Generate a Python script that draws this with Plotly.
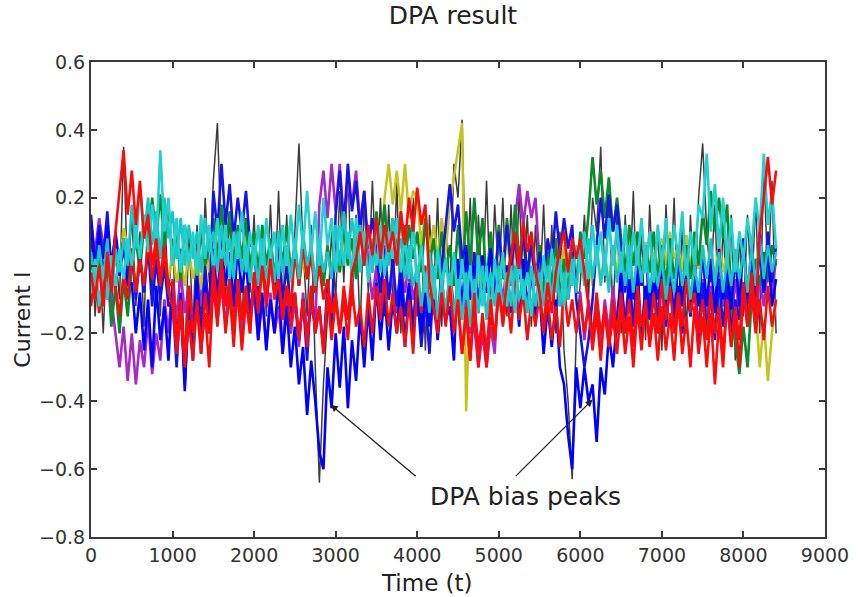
import plotly.graph_objects as go

# Sample instants of the averaged traces (one value every 50 samples, 0..8400)
time = list(range(0, 8401, 50))

# Differential traces, one list per key-guess group (10 values per row = 500 samples)
gray_trace = [
    0.1, -0.15, 0.06, -0.2, 0.08, -0.12, 0.04, -0.1, 0.35, -0.05,
    0.15, -0.12, 0.1, -0.18, 0.2, -0.08, 0.12, -0.15, 0.18, -0.1,
    0.08, -0.22, 0.05, -0.3, 0.1, -0.18, 0.12, -0.15, 0.2, -0.05,
    0.25, 0.42, 0.05, -0.1, 0.15, -0.12, 0.1, -0.18, 0.12, -0.08,
    0.15, -0.2, 0.1, -0.15, 0.18, -0.1, 0.22, -0.12, 0.15, -0.2,
    0.1, 0.36, 0.05, -0.15, 0.12, -0.3, -0.64, -0.35, -0.15, 0.1,
    -0.1, 0.22, -0.05, 0.3, -0.12, 0.15, -0.2, 0.2, -0.08, 0.25,
    -0.05, 0.2, -0.15, 0.18, -0.1, 0.25, -0.2, 0.12, -0.05, 0.2,
    -0.15, 0.1, -0.25, 0.15, -0.1, 0.2, -0.18, 0.12, -0.08, 0.3,
    0.2, 0.43, -0.1, 0.2, -0.2, 0.15, -0.1, 0.25, -0.12, 0.18,
    -0.05, 0.2, -0.15, 0.18, -0.1, 0.22, -0.08, 0.15, -0.18, 0.12,
    -0.1, 0.18, -0.15, 0.12, -0.2, 0.1, -0.25, -0.4, -0.63, -0.2,
    -0.05, 0.15, -0.1, 0.2, 0.1, 0.35, -0.05, 0.2, -0.15, 0.15,
    -0.2, 0.15, -0.1, 0.22, -0.15, 0.1, -0.22, 0.18, -0.1, 0.12,
    -0.25, 0.18, -0.1, 0.2, -0.15, 0.12, -0.2, 0.15, -0.1, 0.2,
    0.36, 0.1, -0.05, 0.18, -0.2, 0.12, -0.1, 0.15, -0.28, 0.1,
    -0.15, 0.15, -0.1, 0.2, -0.2, 0.3, -0.05, 0.25, -0.2,
]
yellow_trace = [
    0.02, -0.05, 0.04, -0.02, 0.05, -0.04, 0.02, 0.0, 0.11, 0.06,
    0.02, -0.05, 0.04, -0.06, 0.03, -0.04, 0.05, -0.06, 0.02, -0.04,
    0.04, -0.05, 0.02, -0.06, 0.05, -0.04, 0.03, -0.07, 0.06, -0.02,
    0.08, 0.0, 0.1, 0.02, 0.08, -0.02, 0.06, 0.0, 0.09, 0.02,
    0.04, -0.04, 0.06, -0.06, 0.02, -0.04, 0.05, -0.08, 0.02, -0.05,
    0.04, -0.06, 0.02, -0.04, 0.06, -0.04, 0.03, -0.06, 0.05, -0.02,
    0.08, -0.02, 0.1, 0.0, 0.08, 0.02, 0.12, 0.0, 0.1, 0.04,
    0.12, 0.04, 0.2, 0.3, 0.18, 0.28, 0.16, 0.3, 0.14, 0.22,
    0.2, 0.06, 0.16, 0.04, 0.12, 0.02, 0.14, 0.04, 0.18, 0.26,
    0.35, 0.42, -0.43, -0.05, 0.04, -0.06, 0.02, -0.04, 0.05, -0.02,
    0.06, -0.04, 0.08, -0.02, 0.05, -0.05, 0.06, -0.03, 0.04, -0.06,
    0.03, -0.05, 0.05, -0.06, 0.02, -0.04, 0.06, -0.05, 0.03, -0.06,
    0.04, -0.05, 0.02, -0.06, 0.05, -0.04, 0.03, -0.05, 0.06, -0.02,
    0.06, -0.02, 0.08, 0.0, 0.05, -0.04, 0.07, -0.02, 0.04, -0.03,
    0.08, 0.0, 0.1, 0.02, 0.06, -0.02, 0.09, 0.0, 0.07, -0.01,
    0.06, -0.03, 0.05, -0.04, 0.07, -0.02, 0.04, -0.05, 0.03, -0.06,
    0.02, -0.05, -0.02, -0.12, -0.3, -0.16, -0.34, -0.2, -0.1,
]
magenta_trace = [
    0.12, 0.04, 0.14, 0.06, 0.1, -0.1, -0.2, -0.3, -0.18, -0.34,
    -0.2, -0.35, -0.22, -0.3, -0.16, -0.32, -0.2, -0.28, -0.1, -0.2,
    -0.04, -0.16, -0.02, -0.14, -0.06, -0.18, -0.04, -0.12, -0.02, -0.16,
    -0.04, -0.16, -0.06, -0.18, -0.04, -0.14, -0.08, -0.2, -0.06, -0.16,
    -0.08, -0.22, -0.1, -0.24, -0.08, -0.2, -0.12, -0.26, -0.08, -0.2,
    -0.1, -0.24, -0.08, -0.2, -0.12, -0.18, 0.18, 0.28, 0.14, 0.3,
    0.16, 0.3, 0.12, 0.24, 0.18, 0.28, 0.12, 0.22, 0.0, -0.1,
    0.0, -0.12, 0.02, -0.1, -0.02, -0.14, 0.0, -0.08, 0.02, -0.1,
    -0.04, -0.16, -0.02, -0.14, -0.06, -0.18, -0.04, -0.14, -0.08, -0.16,
    -0.06, -0.14, -0.1, -0.2, -0.18, -0.3, -0.2, -0.3, -0.18, -0.26,
    -0.02, -0.1, 0.0, -0.06, 0.14, 0.24, 0.12, 0.22, 0.14, 0.2,
    0.0, -0.1, 0.02, -0.08, 0.0, -0.12, -0.02, -0.1, 0.0, -0.08,
    -0.08, -0.22, -0.1, -0.2, -0.12, -0.24, -0.1, -0.2, -0.06, -0.18,
    -0.06, -0.16, -0.04, -0.18, -0.08, -0.2, -0.06, -0.16, -0.04, -0.14,
    -0.06, -0.18, -0.05, -0.16, -0.08, -0.2, -0.04, -0.14, -0.06, -0.18,
    -0.04, -0.16, -0.06, -0.14, -0.02, -0.12, -0.06, -0.18, -0.04, -0.14,
    -0.06, -0.18, -0.1, -0.16, -0.04, -0.12, 0.0, -0.08, 0.02,
]
green_trace = [
    0.02, -0.06, 0.04, -0.08, 0.0, -0.18, -0.06, -0.2, -0.04, -0.15,
    0.0, 0.08, -0.02, 0.12, 0.06, 0.2, 0.08, 0.21, 0.06, 0.18,
    0.0, 0.1, -0.04, 0.12, 0.02, 0.08, -0.02, 0.1, 0.0, 0.06,
    0.14, 0.02, 0.18, 0.04, 0.16, 0.0, 0.12, 0.02, 0.14, -0.02,
    0.1, -0.02, 0.12, 0.0, 0.08, -0.04, 0.1, 0.0, 0.12, -0.02,
    0.06, -0.06, 0.08, -0.04, 0.05, -0.08, 0.04, -0.06, 0.06, -0.04,
    0.1, -0.02, 0.12, 0.0, 0.08, -0.04, 0.1, 0.02, 0.12, -0.02,
    0.16, 0.04, 0.18, 0.02, 0.14, 0.04, 0.16, 0.0, 0.12, 0.02,
    0.1, -0.02, 0.14, 0.0, 0.08, -0.04, 0.1, -0.02, 0.06, -0.06,
    0.12, -0.04, 0.16, 0.0, 0.2, 0.02, 0.14, -0.06, 0.1, -0.08,
    0.12, -0.04, 0.14, 0.0, 0.18, 0.02, 0.1, -0.05, 0.08, -0.06,
    0.06, -0.08, 0.04, -0.06, 0.08, -0.1, 0.02, -0.08, 0.04, -0.06,
    0.1, 0.02, 0.15, 0.32, 0.18, 0.28, 0.14, 0.26, 0.1, 0.2,
    0.08, -0.02, 0.12, 0.0, 0.1, -0.04, 0.06, -0.02, 0.1, -0.04,
    0.06, -0.06, 0.08, -0.04, 0.04, -0.08, 0.06, -0.04, 0.1, 0.0,
    0.16, 0.06, 0.22, 0.1, 0.2, 0.08, 0.18, -0.1, -0.22, -0.32,
    -0.18, -0.3, -0.1, 0.02, -0.06, 0.04, -0.04, 0.06, 0.0,
]
blue_trace_b = [
    0.15, 0.0, 0.12, 0.02, 0.16, -0.02, 0.1, 0.0, 0.08, -0.05,
    0.05, -0.1, 0.03, -0.08, 0.06, -0.12, 0.02, -0.1, 0.0, -0.12,
    -0.1, -0.3, -0.08, -0.35, -0.12, -0.28, -0.05, -0.22, 0.0, -0.15,
    0.22, 0.1, 0.3, 0.12, 0.24, 0.08, 0.2, 0.1, 0.22, 0.06,
    0.05, -0.1, 0.04, -0.12, 0.02, -0.08, 0.06, -0.1, 0.0, -0.14,
    -0.08, -0.22, -0.1, -0.28, -0.06, -0.2, -0.12, -0.25, -0.05, -0.18,
    0.15, 0.28, 0.12, 0.3, 0.16, 0.25, 0.1, 0.22, 0.05, 0.14,
    0.04, -0.08, 0.06, -0.1, 0.02, -0.12, 0.0, -0.15, -0.05, -0.2,
    -0.08, -0.24, -0.1, -0.26, -0.05, -0.18, 0.0, 0.12, 0.24, 0.1,
    0.18, 0.02, 0.06, -0.1, 0.04, -0.12, 0.02, -0.08, 0.05, -0.06,
    0.1, -0.02, 0.12, 0.0, 0.08, -0.04, 0.1, -0.02, 0.06, -0.05,
    0.04, -0.04, 0.08, 0.0, 0.16, 0.03, 0.14, 0.05, 0.12, -0.1,
    -0.2, -0.3, -0.22, -0.1, 0.06, 0.2, 0.08, 0.21, 0.1, 0.18,
    0.05, -0.08, 0.06, -0.1, 0.02, -0.06, 0.04, -0.12, 0.0, -0.1,
    -0.02, -0.18, -0.04, -0.16, -0.06, -0.2, -0.02, -0.15, -0.05, -0.22,
    -0.05, -0.2, -0.08, -0.22, -0.04, -0.18, -0.06, -0.2, -0.1, -0.16,
    -0.05, -0.14, 0.02, -0.1, 0.05, -0.08, 0.1, -0.05, 0.06,
]
blue_trace_a = [
    0.13, -0.02, 0.1, -0.04, 0.12, 0.0, 0.09, -0.03, 0.06, -0.06,
    -0.05, -0.2, -0.08, -0.25, -0.1, -0.3, -0.06, -0.22, -0.12, -0.28,
    -0.05, -0.25, -0.1, -0.37, -0.08, -0.22, -0.02, -0.26, -0.06, -0.2,
    0.05, -0.1, 0.08, -0.06, 0.04, -0.12, 0.06, -0.08, 0.02, -0.14,
    -0.05, -0.22, -0.08, -0.25, -0.1, -0.2, -0.04, -0.26, -0.12, -0.3,
    -0.18, -0.35, -0.24, -0.44, -0.28, -0.4, -0.55, -0.6, -0.3, -0.42,
    -0.2, -0.36, -0.18, -0.42, -0.22, -0.34, -0.14, -0.3, -0.12, -0.28,
    -0.05, -0.22, -0.08, -0.25, -0.1, -0.2, -0.04, -0.24, -0.06, -0.18,
    -0.02, -0.2, -0.06, -0.18, -0.04, -0.22, -0.08, -0.16, -0.12, -0.28,
    0.02, -0.12, 0.04, -0.1, 0.0, -0.14, 0.03, -0.08, 0.05, -0.1,
    -0.02, -0.16, 0.0, -0.14, -0.04, -0.18, 0.02, -0.12, -0.02, -0.15,
    -0.08, -0.26, -0.12, -0.24, -0.1, -0.3, -0.35, -0.5, -0.6, -0.3,
    -0.42, -0.3, -0.4, -0.35, -0.52, -0.3, -0.38, -0.2, -0.3, -0.15,
    -0.02, -0.2, -0.04, -0.18, 0.0, -0.22, -0.06, -0.16, -0.02, -0.2,
    0.02, -0.14, 0.0, -0.16, 0.03, -0.12, -0.02, -0.15, 0.01, -0.12,
    0.04, -0.12, 0.02, -0.14, 0.05, -0.1, 0.0, -0.13, 0.03, -0.12,
    0.08, -0.1, 0.06, -0.12, 0.1, -0.08, 0.05, -0.12, -0.04,
]
red_trace_b = [
    -0.12, -0.02, -0.14, -0.04, -0.1, 0.02, -0.06, -0.15, -0.02, -0.1,
    0.05, -0.08, 0.02, -0.06, 0.07, -0.04, 0.06, -0.06, 0.04, -0.08,
    -0.12, -0.26, -0.14, -0.3, -0.16, -0.28, -0.1, -0.24, -0.14, -0.3,
    -0.05, -0.18, -0.02, -0.2, -0.08, -0.24, -0.04, -0.16, -0.06, -0.2,
    -0.02, -0.12, 0.0, -0.1, 0.02, -0.08, -0.04, -0.14, -0.06, -0.12,
    0.04, -0.06, 0.06, -0.04, 0.03, -0.08, 0.0, -0.1, -0.04, -0.14,
    -0.08, -0.2, -0.1, -0.22, -0.06, -0.18, -0.12, -0.24, -0.08, -0.2,
    -0.06, -0.16, -0.04, -0.18, -0.08, -0.2, -0.12, -0.24, -0.1, -0.26,
    -0.04, -0.14, 0.0, -0.12, -0.02, -0.16, -0.06, -0.14, -0.02, -0.12,
    -0.12, -0.26, -0.14, -0.28, -0.12, -0.24, -0.16, -0.3, -0.14, -0.22,
    -0.06, -0.18, -0.08, -0.2, -0.04, -0.16, -0.08, -0.22, -0.1, -0.18,
    -0.08, -0.2, -0.1, -0.22, -0.12, -0.24, -0.06, -0.18, -0.1, -0.2,
    -0.1, -0.2, -0.12, -0.22, -0.08, -0.2, -0.14, -0.24, -0.1, -0.2,
    -0.08, -0.2, -0.1, -0.24, -0.06, -0.18, -0.12, -0.22, -0.08, -0.2,
    -0.04, -0.16, -0.06, -0.2, -0.08, -0.18, -0.04, -0.14, -0.08, -0.2,
    -0.1, -0.22, -0.08, -0.2, -0.12, -0.26, -0.1, -0.24, -0.14, -0.3,
    -0.06, -0.18, -0.08, -0.2, -0.1, -0.22, -0.06, -0.18, -0.1,
]
cyan_trace_b = [
    0.04, -0.06, 0.06, -0.04, 0.08, -0.08, 0.05, -0.02, 0.08, 0.0,
    0.18, 0.05, 0.24, 0.08, 0.2, 0.06, 0.16, 0.02, 0.2, 0.08,
    0.16, 0.02, 0.14, 0.0, 0.12, 0.02, 0.1, -0.02, 0.14, 0.04,
    0.1, -0.02, 0.12, 0.0, 0.08, -0.04, 0.1, -0.02, 0.06, -0.05,
    0.06, -0.06, 0.08, -0.04, 0.05, -0.05, 0.1, -0.02, 0.06, -0.04,
    0.08, -0.04, 0.1, 0.0, 0.06, -0.06, 0.08, -0.02, 0.04, -0.04,
    0.12, 0.0, 0.16, 0.02, 0.14, 0.04, 0.12, 0.0, 0.1, -0.02,
    0.12, -0.02, 0.1, 0.0, 0.14, 0.02, 0.08, -0.04, 0.06, -0.06,
    0.0, -0.12, -0.02, -0.14, 0.0, -0.16, -0.04, -0.14, -0.02, -0.16,
    -0.04, -0.16, -0.02, -0.18, -0.04, -0.14, 0.0, -0.16, -0.02, -0.12,
    0.0, -0.14, -0.02, -0.12, 0.0, -0.1, -0.04, -0.14, 0.0, -0.12,
    -0.02, -0.12, 0.0, -0.1, 0.02, -0.12, -0.02, -0.1, 0.02, -0.08,
    0.06, -0.06, 0.08, -0.04, 0.06, -0.06, 0.04, -0.08, 0.06, -0.05,
    0.04, -0.06, 0.06, -0.08, 0.04, -0.05, 0.06, -0.08, 0.02, -0.06,
    0.02, -0.1, 0.0, -0.08, 0.04, -0.06, 0.02, -0.1, 0.0, -0.08,
    0.06, -0.04, 0.08, -0.06, 0.04, -0.08, 0.02, -0.06, 0.05, -0.04,
    0.04, -0.08, 0.06, -0.06, 0.08, -0.04, 0.06, -0.02, 0.04,
]
cyan_trace_a = [
    -0.08, 0.02, -0.12, 0.0, -0.1, 0.03, -0.06, 0.05, -0.04, 0.08,
    0.0, 0.12, 0.02, 0.15, 0.04, 0.18, 0.06, 0.34, 0.1, 0.2,
    0.0, 0.14, -0.02, 0.12, 0.0, 0.1, -0.03, 0.15, 0.02, 0.12,
    -0.02, 0.14, 0.0, 0.12, -0.04, 0.1, 0.02, 0.16, -0.02, 0.1,
    0.0, 0.12, -0.02, 0.14, 0.02, 0.1, -0.04, 0.12, 0.0, 0.15,
    0.02, 0.18, 0.05, 0.22, 0.04, 0.16, 0.0, 0.2, 0.06, 0.14,
    -0.02, 0.12, 0.0, 0.1, -0.04, 0.14, -0.02, 0.1, -0.05, 0.08,
    0.0, 0.12, -0.03, 0.1, 0.02, 0.14, -0.02, 0.08, -0.04, 0.12,
    -0.05, 0.06, -0.08, 0.04, -0.1, 0.05, -0.06, 0.02, -0.1, 0.04,
    -0.12, 0.02, -0.1, 0.0, -0.14, 0.03, -0.12, 0.0, -0.15, 0.02,
    -0.1, 0.04, -0.12, 0.0, -0.14, 0.02, -0.1, -0.02, -0.15, 0.0,
    -0.12, 0.03, -0.1, 0.05, -0.08, 0.02, -0.12, 0.04, -0.06, 0.06,
    -0.02, 0.1, -0.04, 0.12, 0.0, 0.1, -0.03, 0.14, 0.0, 0.12,
    -0.02, 0.12, -0.04, 0.1, 0.0, 0.14, -0.02, 0.1, -0.05, 0.12,
    0.0, 0.14, -0.02, 0.12, 0.02, 0.16, -0.03, 0.1, 0.0, 0.18,
    0.14, 0.33, 0.1, 0.24, 0.05, 0.2, 0.0, 0.14, -0.02, 0.1,
    0.02, 0.14, 0.05, 0.2, 0.1, 0.33, 0.12, 0.22, 0.05,
]
red_trace_a = [
    -0.02, -0.1, 0.0, -0.12, 0.04, -0.08, 0.1, 0.22, 0.34, 0.15,
    0.28, 0.12, 0.25, 0.08, 0.15, 0.0, 0.08, -0.04, 0.06, -0.06,
    -0.05, -0.22, -0.1, -0.28, -0.06, -0.2, -0.12, -0.26, -0.08, -0.2,
    0.0, -0.14, 0.02, -0.12, -0.04, -0.18, -0.08, -0.25, -0.1, -0.2,
    -0.02, -0.14, 0.0, -0.12, 0.02, -0.1, -0.04, -0.16, -0.06, -0.18,
    -0.08, -0.22, -0.1, -0.24, -0.06, -0.2, -0.12, -0.26, -0.08, -0.22,
    -0.1, -0.2, -0.06, -0.16, -0.02, 0.02, 0.1, 0.0, 0.12, 0.03,
    0.14, 0.02, 0.12, 0.04, 0.1, 0.0, 0.16, 0.06, 0.2, 0.1,
    0.23, 0.12, 0.18, -0.05, -0.12, -0.2, -0.08, -0.18, -0.06, -0.2,
    -0.1, -0.26, -0.12, -0.28, -0.08, -0.3, -0.14, -0.26, -0.1, -0.22,
    -0.08, -0.15, -0.05, 0.02, 0.1, -0.01, 0.13, 0.04, 0.1, -0.02,
    -0.08, -0.18, -0.05, -0.14, -0.02, 0.05, 0.1, -0.02, 0.08, 0.02,
    0.08, -0.02, -0.12, -0.25, -0.14, -0.28, -0.12, -0.24, -0.15, -0.26,
    -0.12, -0.26, -0.15, -0.3, -0.12, -0.25, -0.1, -0.24, -0.14, -0.28,
    -0.12, -0.25, -0.14, -0.28, -0.1, -0.26, -0.15, -0.3, -0.12, -0.26,
    -0.15, -0.3, -0.14, -0.35, -0.16, -0.3, -0.1, -0.24, -0.12, -0.22,
    -0.05, -0.18, -0.02, -0.15, 0.1, 0.2, 0.32, 0.18, 0.28,
]

# Drawing order (later traces are painted on top) with colour and stroke width
traces = [
    (gray_trace, "#3c3c3c", 1.5),
    (yellow_trace, "#c4c41c", 2.5),
    (magenta_trace, "#a628c8", 2.6),
    (green_trace, "#0a8a2a", 2.6),
    (blue_trace_b, "#1414e6", 2.6),
    (blue_trace_a, "#0000ff", 2.6),
    (red_trace_b, "#f01010", 2.6),
    (cyan_trace_b, "#1cc4c4", 2.6),
    (cyan_trace_a, "#22d0d0", 2.6),
    (red_trace_a, "#ff0a0a", 2.6),
]

x_ticks = list(range(0, 9001, 1000))
y_ticks = [0.6, 0.4, 0.2, 0.0, -0.2, -0.4, -0.6, -0.8]

fig = go.Figure()
for values, color, width in traces:
    if len(values) != len(time):
        raise ValueError(f"trace length {len(values)} != {len(time)}")
    fig.add_trace(go.Scatter(
        x=time, y=values, mode="lines",
        line=dict(color=color, width=width),
        hoverinfo="skip",
    ))

font_family = "DejaVu Sans"
axis_style = dict(
    showline=True, linecolor="#3a3a3a", linewidth=2, mirror="ticks",
    ticks="inside", ticklen=6, tickcolor="#3a3a3a", tickwidth=1.5,
    showgrid=False, zeroline=False,
    tickfont=dict(family=font_family, size=19, color="#333"),
)

fig.update_layout(
    width=861, height=597,
    margin=dict(l=91, r=29, t=62, b=60),
    paper_bgcolor="white", plot_bgcolor="white",
    showlegend=False,
    font=dict(family=font_family, color="#222"),
    title=dict(
        text="DPA result", x=0.526, xref="container", xanchor="center",
        y=0.975, yref="container", yanchor="middle",
        font=dict(family=font_family, size=25, color="#222"),
    ),
    xaxis=dict(range=[0, 9000], tickvals=x_ticks, **axis_style),
    yaxis=dict(range=[-0.8, 0.6], tickvals=y_ticks, **axis_style),
)

# Axis labels
fig.add_annotation(
    x=0.4575, y=-0.097, xref="paper", yref="paper", text="Time (t)",
    showarrow=False, xanchor="center", yanchor="middle",
    font=dict(family=font_family, size=23, color="#222"),
)
fig.add_annotation(
    x=-0.093, y=0.457, xref="paper", yref="paper", text="Current I",
    showarrow=False, textangle=-90, xanchor="center", yanchor="middle",
    font=dict(family=font_family, size=22, color="#222"),
)

# Arrows pointing at the two bias peaks, with one shared label
arrow_heads = [(2940, -0.41), (6150, -0.395)]
arrow_tails = [(4000, -0.625), (5190, -0.625)]
for (hx, hy), (tx, ty) in zip(arrow_heads, arrow_tails):
    fig.add_annotation(
        x=hx, y=hy, ax=tx, ay=ty, xref="x", yref="y", axref="x", ayref="y",
        text="", showarrow=True, arrowhead=2, arrowsize=1.1, arrowwidth=1.3,
        arrowcolor="#222",
    )
fig.add_annotation(
    x=5330, y=-0.68, xref="x", yref="y", text="DPA bias peaks",
    showarrow=False, font=dict(family=font_family, size=25, color="#222"),
)

fig.write_html("out.html")
